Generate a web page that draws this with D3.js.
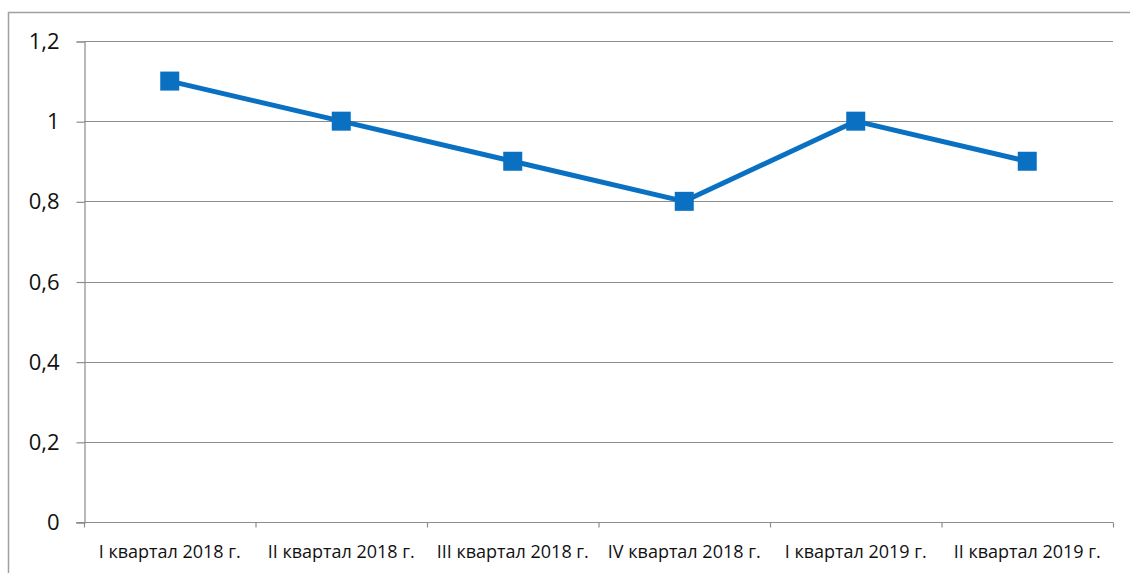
<!DOCTYPE html>
<html>
<head>
<meta charset="utf-8">
<script src="https://cdn.jsdelivr.net/npm/d3@7"></script>
<style>
  body { margin: 0; background: #fff; }
  svg text { font-family: "Open Sans", "Noto Sans", sans-serif; fill: #111; }
</style>
</head>
<body>
<svg id="chart" width="1130" height="573"></svg>
<script>
// quarters and values
var categories = ["I квартал 2018 г.", "II квартал 2018 г.", "III квартал 2018 г.",
                  "IV квартал 2018 г.", "I квартал 2019 г.", "II квартал 2019 г."];
var values = [1.1, 1.0, 0.9, 0.8, 1.0, 0.9];
var yTicks = [0, 0.2, 0.4, 0.6, 0.8, 1, 1.2];

var svg = d3.select("#chart");
var mLeft = 84, mRight = 1113, mTop = 41, mBottom = 522;

// outer frame (top and left edges visible, rest cut off)
svg.append("path")
  .attr("d", "M8.5,573 V12.5 H1130")
  .attr("fill", "none")
  .attr("stroke", "#a0a0a0")
  .attr("stroke-width", 1.5);

var x = d3.scaleBand().domain(categories).range([mLeft, mRight]).padding(0);
var y = d3.scaleLinear().domain([0, 1.2]).range([mBottom, mTop]);

var fmt = function(d) { return d3.format("~g")(d).replace(".", ","); };

// grid
svg.append("g")
  .selectAll("line")
  .data(yTicks.filter(function(d) { return d > 0; }))
  .enter().append("line")
  .attr("x1", mLeft).attr("x2", mRight)
  .attr("y1", function(d) { return Math.round(y(d)) + 0.5; })
  .attr("y2", function(d) { return Math.round(y(d)) + 0.5; })
  .attr("stroke", "#8c8c8c").attr("stroke-width", 1.2);

// y axis
var yAxis = svg.append("g")
  .attr("transform", "translate(" + (mLeft + 0.5) + ",0.5)")
  .call(d3.axisLeft(y).tickValues(yTicks).tickFormat(fmt).tickSize(8).tickPadding(17));
yAxis.select(".domain").attr("stroke", "#8c8c8c").attr("stroke-width", 1.2);
yAxis.selectAll(".tick line").attr("stroke", "#8c8c8c").attr("stroke-width", 1.2);
yAxis.selectAll("text").attr("font-size", 22).attr("fill", "#111")
  .attr("font-family", "Open Sans, sans-serif");

// x axis
var xTickPos = categories.map(function(c) { return x(c); }).concat([mRight]);
var xAxisG = svg.append("g").attr("transform", "translate(0," + (mBottom + 0.5) + ")");
xAxisG.append("line")
  .attr("x1", mLeft - 8).attr("x2", mRight)
  .attr("stroke", "#8c8c8c").attr("stroke-width", 1.2);
xAxisG.selectAll(".xt")
  .data(xTickPos)
  .enter().append("line")
  .attr("x1", function(d) { return d + 0.5; }).attr("x2", function(d) { return d + 0.5; })
  .attr("y1", 0).attr("y2", 5)
  .attr("stroke", "#8c8c8c").attr("stroke-width", 1.2);
xAxisG.selectAll(".xl")
  .data(categories)
  .enter().append("text")
  .attr("x", function(d) { return x(d) + x.bandwidth() / 2; })
  .attr("y", 35)
  .attr("text-anchor", "middle")
  .attr("font-size", 18)
  .text(function(d) { return d; });

// series
var cx = function(d, i) { return x(categories[i]) + x.bandwidth() / 2; };
svg.append("path")
  .datum(values)
  .attr("fill", "none")
  .attr("stroke", "#0a70c2")
  .attr("stroke-width", 5)
  .attr("stroke-linejoin", "round")
  .attr("d", d3.line().x(cx).y(function(d) { return y(d); }));

var m = 19;
svg.selectAll(".marker")
  .data(values)
  .enter().append("rect")
  .attr("x", function(d, i) { return cx(d, i) - m / 2; })
  .attr("y", function(d) { return y(d) - m / 2; })
  .attr("width", m).attr("height", m)
  .attr("fill", "#0a70c2");
</script>
</body>
</html>
